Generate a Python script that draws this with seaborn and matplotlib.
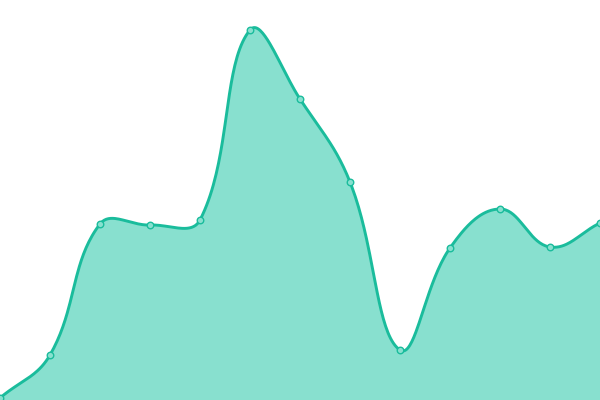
import numpy as np
import matplotlib
matplotlib.use("Agg")
import matplotlib.pyplot as plt
import seaborn as sns

# values (canvas is 600 x 400, value = height above the bottom)
xs = [0, 50, 100, 150, 200, 250, 300, 350, 400, 450, 500, 550, 600]
vals = [2, 45, 176, 175, 180, 370, 301, 218, 50, 152, 191, 153, 177]

line_col = "#1abc9c"
fill_col = "#88e0cf"


# tension spline (control points weighted by the distance to the neighbours),
# only used to draw the smooth line between the points
def smooth(x, y, tension=0.4, n=40):
    pts = np.column_stack([x, y]).astype(float)
    k = len(pts)
    prev_c = np.zeros_like(pts)
    next_c = np.zeros_like(pts)
    for i in range(k):
        p0 = pts[max(i - 1, 0)]
        p1 = pts[i]
        p2 = pts[min(i + 1, k - 1)]
        d01 = np.linalg.norm(p1 - p0)
        d12 = np.linalg.norm(p2 - p1)
        s01 = d01 / (d01 + d12) if d01 + d12 > 0 else 0
        s12 = d12 / (d01 + d12) if d01 + d12 > 0 else 0
        prev_c[i] = p1 - tension * s01 * (p2 - p0)
        next_c[i] = p1 + tension * s12 * (p2 - p0)
    t = np.linspace(0, 1, n, endpoint=False)[:, None]
    out = []
    for i in range(k - 1):
        a, b, c, d = pts[i], next_c[i], prev_c[i + 1], pts[i + 1]
        out.append((1 - t) ** 3 * a + 3 * (1 - t) ** 2 * t * b
                   + 3 * (1 - t) * t ** 2 * c + t ** 3 * d)
    out.append(pts[-1][None, :])
    out = np.vstack(out)
    return out[:, 0], out[:, 1]


sx, sy = smooth(xs, vals)

sns.set_style("white")
fig = plt.figure(figsize=(6, 4), dpi=100)
ax = fig.add_axes([0, 0, 1, 1])

ax.fill_between(sx, 0, sy, color=fill_col, linewidth=0)
sns.lineplot(x=sx, y=sy, color=line_col, linewidth=2.1, sort=False, ax=ax)
sns.scatterplot(x=xs, y=vals, s=22, color=fill_col, edgecolor=line_col,
                linewidth=1.0, zorder=5, ax=ax)

ax.set_xlim(0, 600)
ax.set_ylim(0, 400)
ax.axis("off")

plt.savefig("out.png", dpi=100)
